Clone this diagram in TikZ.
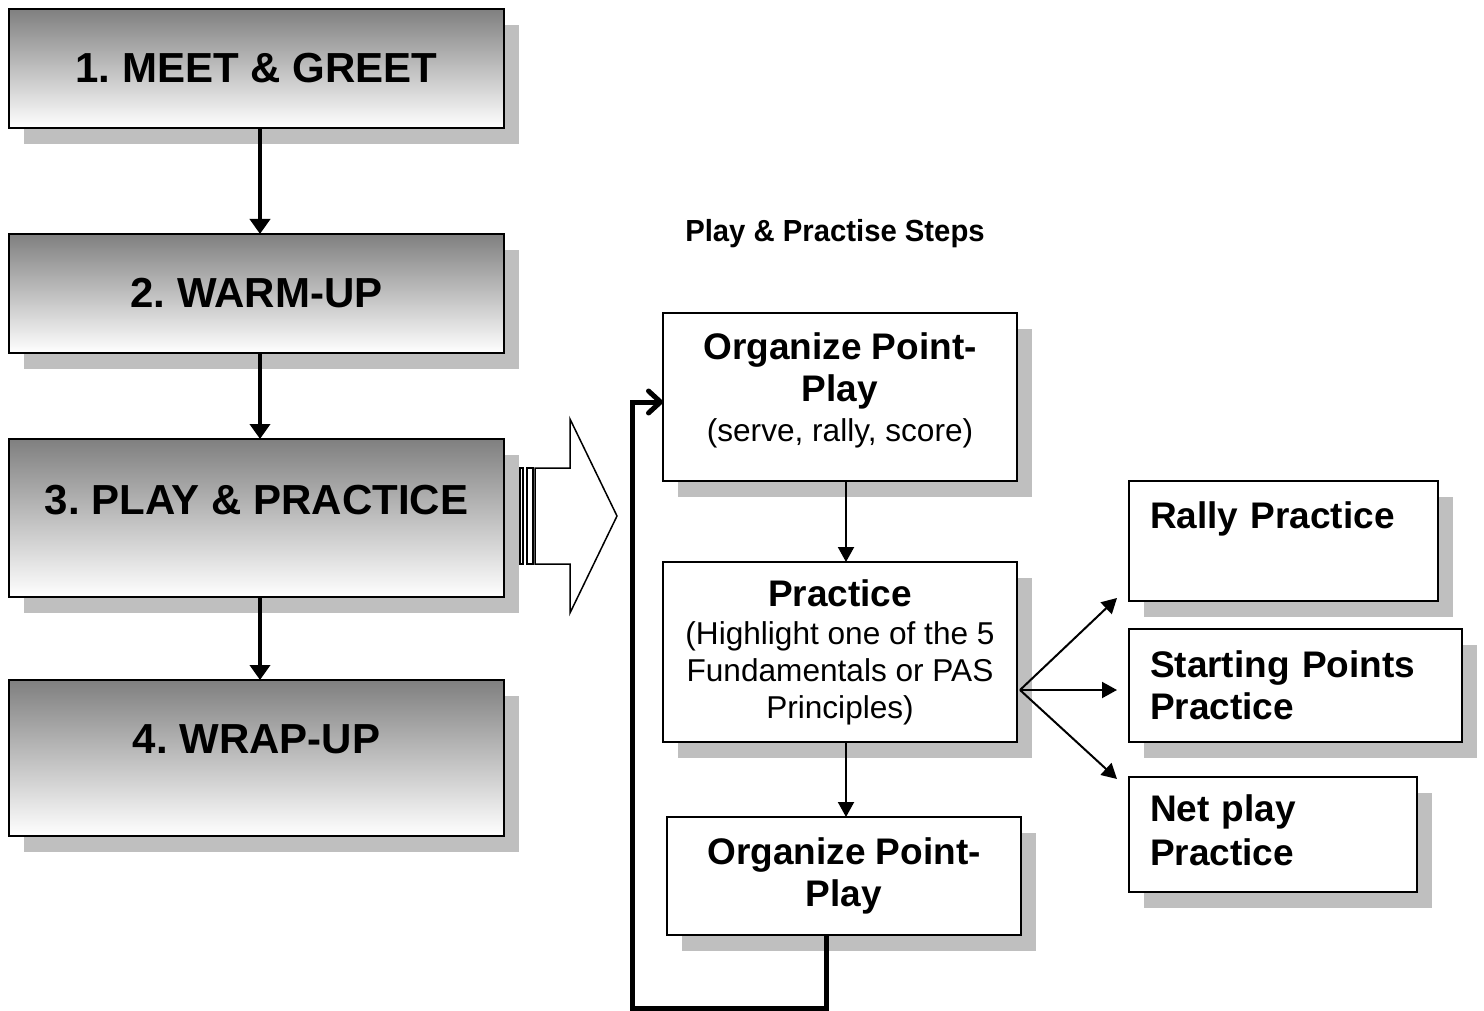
\documentclass[tikz,border=0pt]{standalone}
\usepackage{fontspec}
\setmainfont{Liberation Sans}
\usepackage{tikz}
\usetikzlibrary{shadows,arrows.meta}
\frenchspacing
\newcommand{\stagefont}{\fontsize{42}{48}\selectfont\bfseries}
\newcommand{\headfont}{\fontsize{37}{42}\selectfont\bfseries}
\newcommand{\notefont}{\fontsize{31.6}{37}\selectfont\mdseries}
\newcommand{\liftup}{\rule[-37pt]{0pt}{37pt}}

\begin{document}
\begin{tikzpicture}[x=1pt,y=-1pt,
    every node/.style={inner sep=0,outer sep=0},
    boxshadow/.style={drop shadow={shadow xshift=15pt,shadow yshift=-16pt,fill=black!25,opacity=1}},
    stage/.style={draw,line width=2.5pt,top color=black!50,bottom color=white,
      minimum width=495pt,boxshadow,font=\stagefont},
    stepbox/.style={draw,line width=2pt,fill=white,minimum width=354pt,boxshadow,
      align=center,font=\headfont},
    optbox/.style={draw,line width=2pt,fill=white,boxshadow,inner xsep=21pt,
      align=left,font=\headfont},
    thick arrow/.style={line width=4.5pt,-{Triangle[length=15pt,width=20pt]}},
    thin arrow/.style={line width=2pt,-{Triangle[length=15pt,width=16pt]}}]
    \useasboundingbox (0,0) rectangle (1484,1011);

    % main stages
    \node(s1)[stage,minimum height=119pt] at (256.5,68.5) {1. MEET \& GREET};
    \node(s2)[stage,minimum height=119pt] at (256.5,293.5) {2. WARM-UP};
    \node(s3)[stage,minimum height=158pt] at (256.5,518) {3. PLAY \& PRACTICE\liftup};
    \node(s4)[stage,minimum height=156pt] at (256.5,758) {4. WRAP-UP\liftup};

    \draw [thick arrow] ([xshift=3.5pt]s1.south) -- ([xshift=3.5pt]s2.north);
    \draw [thick arrow] ([xshift=3.5pt]s2.south) -- ([xshift=3.5pt]s3.north);
    \draw [thick arrow] ([xshift=3.5pt]s3.south) -- ([xshift=3.5pt]s4.north);

    % block arrow
    \draw[line width=1.5pt,fill=white] (520,468) rectangle (523,564);
    \draw[line width=1.5pt,fill=white] (527,468) rectangle (533,564);
    \draw[line width=1.5pt,fill=white,line join=miter] (535,468) -- (570,468) -- (570,419)
      -- (617,516) -- (570,613) -- (570,564) -- (535,564) -- cycle;

    \node(title)[font=\fontsize{30.5}{34}\selectfont\bfseries] at (835,234)
      {\scalebox{0.96}[1]{Play \& Practise Steps}};

    % play & practise steps
    \node(op1)[stepbox,minimum height=168pt] at (840,397) {Organize Point-\\Play\\[-2pt]
      \notefont (serve, rally, score)\rule[-20pt]{0pt}{20pt}};
    \node(pr)[stepbox,minimum height=180pt] at (840,652) {Practice\rule[-14pt]{0pt}{14pt}\\[-4pt]
      \notefont (Highlight one of the 5\\[-5pt]\notefont Fundamentals or PAS\\[-5pt]\notefont Principles)};
    \node(op2)[stepbox,minimum height=118pt] at (844,876) {Organize Point-\\Play};

    \draw [thin arrow] ([xshift=6pt]op1.south) -- ([xshift=6pt]pr.north);
    \draw [thin arrow] ([xshift=6pt]pr.south) -- ([xshift=2pt]op2.north);

    % back to the start
    \coordinate(lp) at (632,1008);
    \draw [line width=5pt,line join=miter,-{Straight Barb[length=12pt,width=22pt,round]}]
      ([xshift=-18pt]op2.south) |- (lp) |- ([yshift=-5pt]op1.west);

    % practice options
    \node(rally)[optbox,text width=267pt,minimum height=120pt] at (1283.5,541) {Rally Practice\\[10pt]~};
    \node(start)[optbox,text width=291pt,minimum height=113pt] at (1295.5,685.5) {Starting Points\\Practice};
    \node(net)[optbox,text width=246pt,minimum height=115pt] at (1273,834.5) {Net play\\[2pt]Practice\rule[-8pt]{0pt}{8pt}};

    \coordinate(fan) at ([xshift=3pt,yshift=-38pt]pr.east);
    \draw [thin arrow] (fan) -- ([xshift=-12pt,yshift=3pt]rally.south west);
    \draw [thin arrow] (fan) -- ([xshift=-12pt]fan -| start.west);
    \draw [thin arrow] (fan) -- ([xshift=-12pt,yshift=-2pt]net.north west);
\end{tikzpicture}
\end{document}
